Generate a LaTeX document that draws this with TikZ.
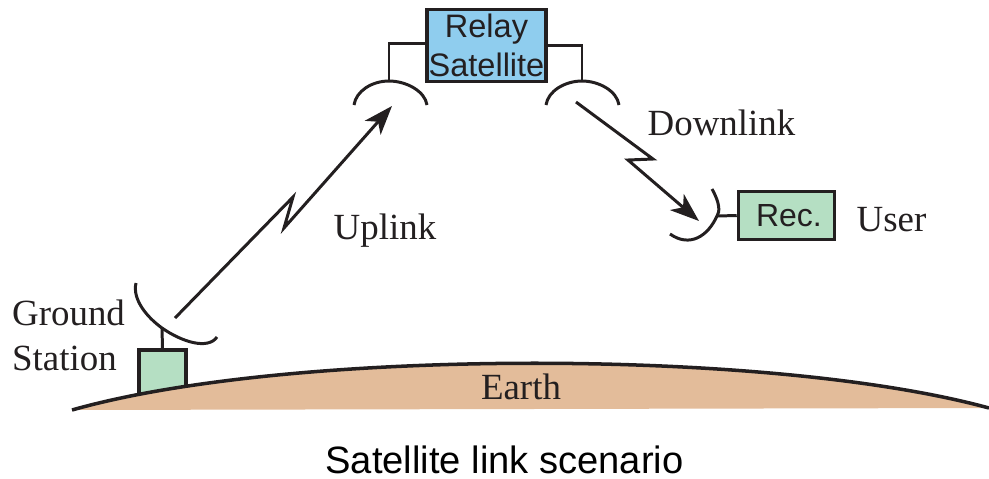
\documentclass[tikz,border=0pt]{standalone}
\usepackage{fontspec}
\setmainfont{Liberation Serif}
\setsansfont{Liberation Sans}
\usetikzlibrary{arrows.meta,positioning}
\definecolor{inkdark}{HTML}{231F20}
\definecolor{relayblue}{HTML}{8FCDEE}
\definecolor{boxgreen}{HTML}{B5DFC3}
\definecolor{earthtan}{HTML}{E3BC9A}
\tikzset{
  wire/.style={line width=0.85pt, draw=inkdark},
  linkarrow/.style={wire, line join=miter, -{Stealth[length=0.29cm, width=0.21cm, inset=0.08cm]}},
  boxlabel/.style={draw=inkdark, line width=1pt, inner sep=0pt, text=inkdark, font=\sffamily\fontsize{9.25}{11.3}\selectfont, align=center},
  seriflabel/.style={text=inkdark, inner sep=0pt, font=\fontsize{10.5}{12.8}\selectfont},
}
\begin{document}
\begin{tikzpicture}

        \useasboundingbox (0,0) rectangle (9.89,4.78);

        % Estacion terrena
        \node[boxlabel, fill=boxgreen, minimum width=0.47cm, minimum height=0.5cm] (ground) at (1.625,1.03) {};

        % Tierra
        \coordinate (earthL) at (0.72,0.68);
        \coordinate (earthR) at (9.89,0.70);
        \fill[earthtan] (earthL) .. controls (2.9,1.30) and (7.7,1.30) .. (earthR) -- cycle;
        \draw[wire, line width=1pt] (earthL) .. controls (2.9,1.30) and (7.7,1.30) .. (earthR);
        \node[seriflabel, anchor=base] (earth) at (5.21,0.79) {Earth};

        % Satelite
        \node[boxlabel, fill=relayblue, minimum width=1.19cm, minimum height=0.72cm] (relay) at (4.865,4.325) {Relay\\Satellite};

        % Antenas del satelite
        \coordinate (dishA) at (3.89,3.97);
        \coordinate (dishB) at (5.82,3.97);
        \draw[wire] (3.54,3.73) .. controls (3.56,3.87) and (3.72,3.97) .. (dishA) .. controls (4.06,3.97) and (4.25,3.87) .. (4.27,3.73);
        \draw[wire] (5.46,3.73) .. controls (5.48,3.87) and (5.65,3.97) .. (dishB) .. controls (5.99,3.97) and (6.17,3.87) .. (6.19,3.73);
        \draw[wire] ([yshift=0.02cm]relay.west) -| (dishA);
        \draw[wire] (relay.east) -| (dishB);

        % Receptor
        \node[boxlabel, fill=boxgreen, minimum width=0.96cm, minimum height=0.48cm, font=\sffamily\fontsize{9.1}{11}\selectfont] (rec) at (7.865,2.625) {\hspace*{0.05cm}Rec.};
        \coordinate (dishC) at (7.17,2.62);
        \draw[wire] (7.12,2.89) .. controls (7.20,2.75) and (7.20,2.66) .. (dishC) .. controls (7.08,2.42) and (6.90,2.30) .. (6.70,2.44);
        \draw[wire] (rec.west) -- (dishC);

        % Antena de la estacion
        \coordinate (dishD) at (1.62,1.50);
        \draw[wire] (1.36,1.95) .. controls (1.32,1.78) and (1.48,1.60) .. (dishD) .. controls (1.82,1.36) and (2.08,1.28) .. (2.17,1.41);
        \draw[wire] (ground.north) -- (dishD);

        % Enlace de subida
        \coordinate (upA) at (1.75,1.60);
        \coordinate (upB) at (2.93,2.81);
        \coordinate (upC) at (2.84,2.50);
        \coordinate (upD) at (3.92,3.72);
        \draw[linkarrow] (upA) -- (upB) -- (upC) -- (upD);
        \node[seriflabel, anchor=base west] (uplink) at (3.33,2.39) {Uplink};

        % Enlace de bajada
        \coordinate (downA) at (5.76,3.76);
        \coordinate (downB) at (6.53,3.19);
        \coordinate (downC) at (6.28,3.18);
        \coordinate (downD) at (6.99,2.57);
        \draw[linkarrow] (downA) -- (downB) -- (downC) -- (downD);
        \node[seriflabel, anchor=base west] (downlink) at (6.47,3.43) {Downlink};

        % Textos
        \node[seriflabel, anchor=base west] (user) at (8.56,2.47) {User};
        \node[seriflabel, anchor=base west] (groundname) at (0.115,1.53) {Ground};
        \node[seriflabel, anchor=base west] (stationname) at (0.115,1.08) {Station};
        \node[anchor=base, inner sep=0pt, text=black, font=\sffamily\fontsize{10.85}{13}\selectfont] (caption) at (5.045,0.05) {Satellite link scenario};

    \end{tikzpicture}
\end{document}
